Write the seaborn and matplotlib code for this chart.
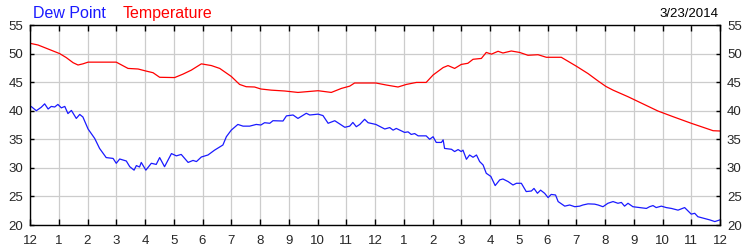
import matplotlib
matplotlib.use("Agg")
import matplotlib.pyplot as plt
import seaborn as sns
import pandas as pd
import numpy as np

# ---- data (hours since midnight, °F) ----
temp_hours = [0.0, 0.28, 0.63, 1.03, 1.26, 1.50, 1.67, 1.84, 2.02, 3.0, 3.41, 3.76, 4.03,
              4.28, 4.51, 5.03, 5.32, 5.61, 5.96, 6.31, 6.6, 7.0, 7.29, 7.52, 7.81, 8.03,
              8.39, 8.86, 9.32, 10.02, 10.48, 10.83, 11.12, 11.29, 12.03,
              12.39, 12.8, 13.09, 13.44, 13.78, 14.02, 14.37, 14.54, 14.77, 15.0, 15.23,
              15.41, 15.7, 15.87, 16.05, 16.28, 16.45, 16.74, 17.03, 17.32, 17.67, 17.96,
              18.48, 19.0, 19.41, 19.76, 20.03, 20.28, 20.8, 21.32, 21.84, 22.37, 23.0,
              23.41, 23.76, 24.0]
temp_values = [51.8, 51.5, 50.8, 50.0, 49.3, 48.4, 48.0, 48.2, 48.5, 48.5, 47.4, 47.3, 46.95,
               46.65, 45.85, 45.8, 46.4, 47.1, 48.2, 47.9, 47.4, 46.0, 44.6, 44.2, 44.15, 43.8,
               43.6, 43.45, 43.2, 43.5, 43.2, 43.9, 44.3, 44.85, 44.85,
               44.5, 44.15, 44.6, 44.95, 44.95, 46.25, 47.55, 47.9, 47.4, 48.1, 48.3,
               49.0, 49.15, 50.2, 49.9, 50.4, 50.1, 50.45, 50.2, 49.7, 49.8, 49.35,
               49.35, 47.8, 46.5, 45.2, 44.25, 43.6, 42.45, 41.2, 39.95, 38.95, 37.8,
               37.1, 36.5, 36.45]

dew_hours = [0.0, 0.05, 0.22, 0.39, 0.51, 0.63, 0.74, 0.86, 0.97, 1.09, 1.21, 1.32, 1.44,
             1.61, 1.73, 1.84, 2.02, 2.25, 2.42, 2.65, 2.89, 3.0, 3.12, 3.35, 3.47, 3.62,
             3.7, 3.81, 3.87, 4.03, 4.22, 4.39, 4.51, 4.68, 4.92, 5.09, 5.26, 5.5, 5.67,
             5.79, 5.96, 6.19, 6.42, 6.71, 6.83, 7.0, 7.23, 7.41, 7.64, 7.87, 8.03,
             8.16, 8.34, 8.45, 8.8, 8.92, 9.15, 9.32, 9.61, 9.73, 10.02, 10.19, 10.37,
             10.6, 10.95, 11.12, 11.23, 11.35, 11.47, 11.64, 11.76, 12.03,
             12.34, 12.51, 12.63, 12.74, 13.03, 13.15, 13.26, 13.38, 13.5, 13.78, 13.9,
             14.02, 14.13, 14.31, 14.37, 14.42, 14.66, 14.77, 14.89, 15.0, 15.06, 15.18,
             15.29, 15.41, 15.53, 15.64, 15.76, 15.87, 16.03, 16.18, 16.34, 16.45, 16.63,
             16.8, 16.92, 17.09, 17.26, 17.44, 17.53, 17.65, 17.76, 17.9, 18.02, 18.13,
             18.28, 18.37, 18.6, 18.77, 18.95, 19.12, 19.23, 19.41, 19.64, 19.76, 19.93,
             20.1, 20.28, 20.45, 20.57, 20.68, 20.8, 20.97, 21.2, 21.44, 21.55, 21.67,
             21.78, 21.96, 22.13, 22.31, 22.42, 22.54, 22.77, 23.0, 23.12, 23.23, 23.41,
             23.64, 23.82, 24.0]
dew_values = [40.8, 40.7, 40.0, 40.6, 41.2, 40.3, 40.75, 40.65, 41.1, 40.5, 40.75, 39.5, 40.05,
              38.65, 39.35, 38.9, 36.8, 35.15, 33.4, 31.8, 31.65, 30.8, 31.55, 31.2, 30.2, 29.6,
              30.4, 30.15, 30.95, 29.6, 30.8, 30.6, 31.8, 30.2, 32.5, 32.1, 32.35, 30.95, 31.3,
              31.1, 31.9, 32.25, 33.1, 34.0, 35.45, 36.6, 37.6, 37.3, 37.3, 37.6, 37.5,
              37.9, 37.8, 38.25, 38.2, 39.1, 39.25, 38.65, 39.55, 39.25, 39.4, 39.15, 37.8,
              38.25, 37.1, 37.3, 37.95, 37.2, 37.6, 38.5, 37.9, 37.6,
              36.8, 37.05, 36.6, 36.9, 36.2, 36.3, 35.85, 36.0, 35.6, 35.6, 35.0,
              35.45, 34.45, 34.45, 34.9, 33.4, 33.25, 32.85, 33.2, 32.85, 33.1, 31.5,
              32.25, 31.85, 32.25, 31.1, 30.5, 29.05, 28.5, 26.9, 27.9, 28.05, 27.6,
              27.0, 27.3, 27.3, 25.85, 25.95, 26.4, 25.55, 26.1, 25.55, 24.8, 25.35,
              25.25, 24.1, 23.3, 23.5, 23.2, 23.3, 23.5, 23.7, 23.65, 23.5, 23.2,
              23.8, 24.1, 23.8, 23.95, 23.3, 23.8, 23.2, 23.05, 22.9, 23.2, 23.4,
              23.05, 23.3, 23.05, 22.9, 22.75, 22.6, 23.05, 21.9, 22.05, 21.45, 21.2,
              20.9, 20.6, 20.9]

x_tick_labels = ["12", "1", "2", "3", "4", "5", "6", "7", "8", "9", "10", "11",
                 "12", "1", "2", "3", "4", "5", "6", "7", "8", "9", "10", "11", "12"]
y_ticks = [20, 25, 30, 35, 40, 45, 50, 55]
date_label = "3/23/2014"
series_names = ["Dew Point", "Temperature"]

# ---- plotting ----
sns.set_style("white")
plt.rcParams["font.family"] = ["Liberation Sans", "DejaVu Sans"]

fig = plt.figure(figsize=(7.5, 2.5), dpi=100)
ax = fig.add_axes([30/750, 25/250, 690/750, 200/250])

df_t = pd.DataFrame({"hour": temp_hours, "value": temp_values})
df_d = pd.DataFrame({"hour": dew_hours, "value": dew_values})
sns.lineplot(data=df_t, x="hour", y="value", ax=ax, color="#ff0000", linewidth=0.9)
sns.lineplot(data=df_d, x="hour", y="value", ax=ax, color="#1a1aff", linewidth=0.9)

ax.set_xlim(0, 24)
ax.set_ylim(20, 55)
ax.set_xticks(range(25))
ax.set_xticklabels(x_tick_labels)
ax.set_yticks(y_ticks)
ax.set_xlabel("")
ax.set_ylabel("")
ax.grid(True, color="#cccccc", linewidth=0.9)
ax.set_axisbelow(True)
for s in ax.spines.values():
    s.set_color("black")
    s.set_linewidth(1.0)
ax.tick_params(axis="x", direction="in", length=4, width=1, color="black",
               top=True, bottom=True, labelsize=9.5, pad=7)
ax.tick_params(axis="y", direction="in", length=3, width=1, color="black",
               left=True, right=True, labelleft=True, labelright=True,
               labelsize=9.5, pad=5)

fig.text(33/750, 1 - 18/250, series_names[0], color="#1a1aff", fontsize=11.5, va="baseline", ha="left")
fig.text(123/750, 1 - 18/250, series_names[1], color="#ff0000", fontsize=11.5, va="baseline", ha="left")
fig.text(718/750, 1 - 17/250, date_label, color="black", fontsize=9.5, va="baseline", ha="right")

fig.savefig("out.png", dpi=100)
